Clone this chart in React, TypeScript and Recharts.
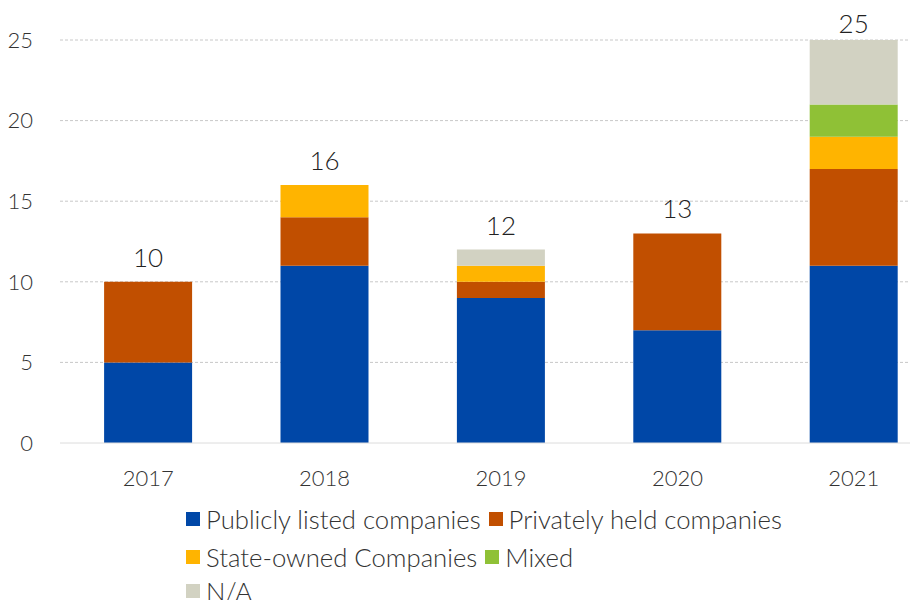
import { BarChart, Bar, XAxis, YAxis, CartesianGrid, Legend, LabelList } from 'recharts';

const years = ['2017', '2018', '2019', '2020', '2021'];
const publicCos = [5, 11, 9, 7, 11];
const privateCos = [5, 3, 1, 6, 6];
const stateCos = [0, 2, 1, 0, 2];
const mixed = [0, 0, 0, 0, 2];
const notAvailable = [0, 0, 1, 0, 4];
const yTicks = [0, 5, 10, 15, 20, 25];

const series = [
  { key: 'publicCos', name: 'Publicly listed companies', color: '#0047a7' },
  { key: 'privateCos', name: 'Privately held companies', color: '#c14f00' },
  { key: 'stateCos', name: 'State-owned Companies', color: '#ffb400' },
  { key: 'mixed', name: 'Mixed', color: '#8fc136' },
  { key: 'notAvailable', name: 'N/A', color: '#d2d2c2' },
];

const data = years.map((year, i) => {
  const row: any = {
    year,
    publicCos: publicCos[i],
    privateCos: privateCos[i],
    stateCos: stateCos[i],
    mixed: mixed[i],
    notAvailable: notAvailable[i],
  };
  const total = series.reduce((acc, s) => acc + row[s.key], 0);
  // total label goes on whichever series is on top of this stack
  let top = series[0].key;
  series.forEach(s => { if (row[s.key] > 0) top = s.key; });
  series.forEach(s => { row[s.key + 'Total'] = s.key === top ? total : null; });
  return row;
});

const font = 'Lato, "Noto Sans", sans-serif';
const rows = [[0, 1], [2, 3], [4]];

function LegendBox() {
  return (
    <div style={{ height: 108, paddingLeft: 186, boxSizing: 'border-box', fontFamily: font, fontSize: 25.7, fontWeight: 300, color: '#333', lineHeight: '30px' }}>
      {rows.map((row, r) => (
        <div key={r} style={{ display: 'flex', alignItems: 'center', height: r < 2 ? 38 : 30 }}>
          {row.map(idx => (
            <div key={idx} style={{ display: 'flex', alignItems: 'center', marginRight: 8 }}>
              <span style={{ width: 14, height: 14, background: series[idx].color, display: 'inline-block', marginRight: 6 }} />
              <span>{series[idx].name}</span>
            </div>
          ))}
        </div>
      ))}
    </div>
  );
}

export default function App() {
  return (
    <div style={{ margin: -8, width: 918, height: 608, overflow: 'hidden', background: '#fff' }}>
      <BarChart
        width={942}
        height={608}
        data={data}
        margin={{ top: 40, right: 0, bottom: 0, left: 0 }}
        barCategoryGap="25%"
      >
        <CartesianGrid vertical={false} stroke="#c8c8c8" strokeDasharray="3 2" horizontalValues={[5, 10, 15, 20, 25]} />
        <XAxis
          dataKey="year"
          height={57}
          axisLine={{ stroke: '#dcdcdc' }}
          tickLine={false}
          tickSize={0}
          tickMargin={27}
          tick={{ fontSize: 22, fill: '#333', fontFamily: font, fontWeight: 300 }}
        />
        <YAxis
          width={60}
          domain={[0, 25]}
          ticks={yTicks}
          axisLine={false}
          tickLine={false}
          tickSize={0}
          tickMargin={27}
          tick={{ fontSize: 22, fill: '#333', fontFamily: font, fontWeight: 300 }}
        />
        <Legend verticalAlign="bottom" content={() => <LegendBox />} />
        {series.map(s => (
          <Bar key={s.key} dataKey={s.key} name={s.name} stackId="a" fill={s.color} isAnimationActive={false}>
            <LabelList
              dataKey={s.key + 'Total'}
              content={(p: any) => {
                if (p.value == null) return null;
                return (
                  <text
                    x={p.x + p.width / 2}
                    y={Math.max(p.y - 15, 33)}
                    textAnchor="middle"
                    fontSize={26}
                    fontWeight={300}
                    fill="#222"
                    fontFamily={font}
                  >
                    {p.value}
                  </text>
                );
              }}
            />
          </Bar>
        ))}
      </BarChart>
    </div>
  );
}
